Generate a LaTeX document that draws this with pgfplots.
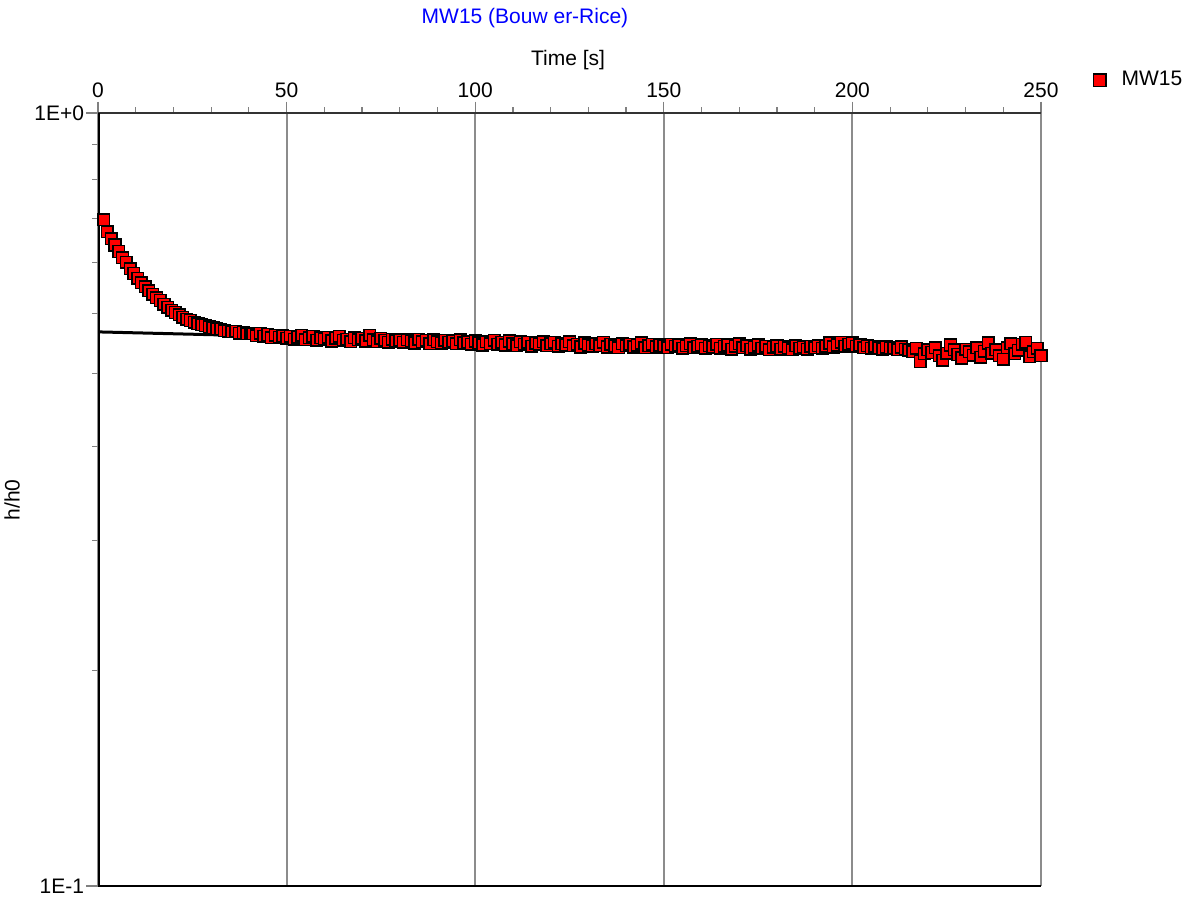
\documentclass[border=0pt]{standalone}
\usepackage{fontspec}
\setmainfont{Liberation Sans}
\usepackage{pgfplots}
\pgfplotsset{compat=1.18}
\definecolor{titleblue}{RGB}{0,0,255}
\begin{document}
\begin{tikzpicture}[font=\fontsize{10.5}{12.6}\selectfont]
\useasboundingbox (0,0) rectangle (598.5pt,449pt);
\begin{axis}[
  at={(49pt,6pt)}, anchor=south west,
  scale only axis, width=471.5pt, height=386.5pt,
  xmin=0, xmax=250, ymode=log, ymin=0.1, ymax=1,
  xtick={0,50,...,250}, minor xtick={10,20,...,240},
  ytick={0.1,1}, yticklabels={1E-1,1E+0},
  minor ytick={0.19,0.28,0.37,0.46,0.55,0.64,0.73,0.82,0.91},
  xtick pos=upper, xticklabel pos=upper, ytick pos=left,
  tick align=outside,
  major tick length=5.75pt, minor tick length=2.75pt,
  tick style={gray, line width=0.6pt},
  minor tick style={gray, line width=0.6pt},
  xmajorgrids, major x grid style={gray!90, line width=0.95pt},
  axis line style={draw=none},
  /pgf/number format/assume math mode=true,
  tick label style={font=\fontsize{10.5}{12.6}\selectfont},
  yticklabel style={inner xsep=1pt},
  xticklabel style={inner ysep=1.5pt},
  legend style={draw=none, fill=none, at={(axis description cs:1,1)}, anchor=west,
    xshift=23pt, yshift=16.4pt, font=\fontsize{10.5}{12.6}\selectfont},
  legend image code/.code={\path[draw=none,fill=none] (0pt,0pt) rectangle (12.1pt,0pt); \draw[#1, mark size=3.2pt] plot coordinates {(3.2pt,0pt)};},
]
\addplot[only marks, mark=square*, mark size=2.9pt, mark options={fill=red, draw=black, line width=0.75pt}] coordinates {
(1.5,0.728) (2.5,0.702) (3.5,0.688) (4.5,0.675) (5.5,0.662) (6.5,0.650) (7.5,0.641) (8.5,0.629) (9.5,0.620) (10.5,0.611)
(11.5,0.603) (12.5,0.596) (13.5,0.589) (14.5,0.583) (15.5,0.577) (16.5,0.572) (17.5,0.566) (18.5,0.561) (19.5,0.556) (20.5,0.552)
(21.5,0.548) (22.5,0.544) (23.5,0.541) (24.5,0.539) (25.5,0.536) (26.5,0.534) (27.5,0.532) (28.5,0.531) (29.5,0.529) (30.5,0.527)
(31.5,0.526) (32.5,0.525) (33.5,0.523) (34.5,0.522) (35.5,0.521) (36.5,0.522) (37.5,0.519) (38.5,0.520) (39.5,0.518) (40.5,0.519)
(41,0.518) (42,0.515) (43,0.519) (44,0.514) (45,0.517) (46,0.512) (47,0.516) (48,0.513) (49,0.515) (50,0.511)
(51,0.514) (52,0.510) (53,0.513) (54,0.516) (55,0.509) (56,0.512) (57,0.514) (58,0.508) (59,0.512) (60,0.510)
(61,0.513) (62,0.507) (63,0.511) (64,0.514) (65,0.508) (66,0.510) (67,0.506) (68,0.512) (69,0.509) (70,0.511)
(71,0.507) (72,0.516) (73,0.509) (74,0.506) (75,0.511) (76,0.508) (77,0.505) (78,0.510) (79,0.507) (80,0.509)
(81,0.505) (82,0.509) (83,0.507) (84,0.504) (85,0.510) (86,0.506) (87,0.508) (88,0.503) (89,0.509) (90,0.506)
(91,0.504) (92,0.508) (93,0.505) (94,0.507) (95,0.503) (96,0.509) (97,0.504) (98,0.506) (99,0.502) (100,0.507)
(101,0.504) (102,0.501) (103,0.506) (104,0.503) (105,0.508) (106,0.502) (107,0.505) (108,0.501) (109,0.507) (110,0.503)
(111,0.500) (112,0.506) (113,0.502) (114,0.505) (115,0.499) (116,0.504) (117,0.502) (118,0.506) (119,0.500) (120,0.503)
(121,0.505) (122,0.499) (123,0.503) (124,0.501) (125,0.506) (126,0.500) (127,0.502) (128,0.498) (129,0.504) (130,0.501)
(131,0.499) (132,0.503) (133,0.500) (134,0.505) (135,0.498) (136,0.502) (137,0.500) (138,0.497) (139,0.503) (140,0.500)
(141,0.502) (142,0.498) (143,0.501) (144,0.504) (145,0.497) (146,0.500) (147,0.502) (148,0.498) (149,0.501) (150,0.499)
(151,0.497) (152,0.502) (153,0.499) (154,0.501) (155,0.496) (156,0.500) (157,0.503) (158,0.497) (159,0.499) (160,0.501)
(161,0.496) (162,0.500) (163,0.498) (164,0.502) (165,0.496) (166,0.499) (167,0.501) (168,0.495) (169,0.499) (170,0.503)
(171,0.497) (172,0.500) (173,0.495) (174,0.498) (175,0.501) (176,0.496) (177,0.499) (178,0.494) (179,0.498) (180,0.500)
(181,0.495) (182,0.499) (183,0.497) (184,0.494) (185,0.500) (186,0.496) (187,0.498) (188,0.495) (189,0.499) (190,0.497)
(191,0.500) (192,0.496) (193,0.499) (194,0.504) (195,0.498) (196,0.501) (197,0.505) (198,0.499) (199,0.502) (200,0.504)
(201,0.499) (202,0.501) (203,0.497) (204,0.500) (205,0.496) (206,0.499) (207,0.497) (208,0.495) (209,0.498) (210,0.496)
(211,0.497) (212,0.494) (213,0.498) (214,0.495) (215,0.493) (216,0.491) (217,0.496) (218,0.477) (219,0.488) (220,0.494)
(221,0.490) (222,0.497) (223,0.485) (224,0.479) (225,0.489) (226,0.501) (227,0.494) (228,0.487) (229,0.482) (230,0.495)
(231,0.491) (232,0.486) (233,0.497) (234,0.483) (235,0.492) (236,0.504) (237,0.489) (238,0.494) (239,0.485) (240,0.480)
(241,0.497) (242,0.503) (243,0.488) (244,0.493) (245,0.502) (246,0.505) (247,0.484) (248,0.491) (249,0.496) (250,0.485)
};
\addlegendentry{MW15}
\addplot[black, line width=1.5pt, forget plot] coordinates {(0,0.521) (250,0.486)};
\draw[black, line width=1pt] (rel axis cs:0,0) -- (rel axis cs:1,0);
\draw[black!80, line width=1pt] (rel axis cs:0,1) -- (rel axis cs:1,1);
\draw[black, line width=1.5pt] (rel axis cs:0,0) -- (rel axis cs:0,1);
\end{axis}
\node[text=titleblue] at (262.5pt,440pt) {MW15 (Bouw er-Rice)};
\node at (284pt,419pt) {Time [s]};
\node[rotate=90] at (6pt,199pt) {h/h0};
\end{tikzpicture}
\end{document}
